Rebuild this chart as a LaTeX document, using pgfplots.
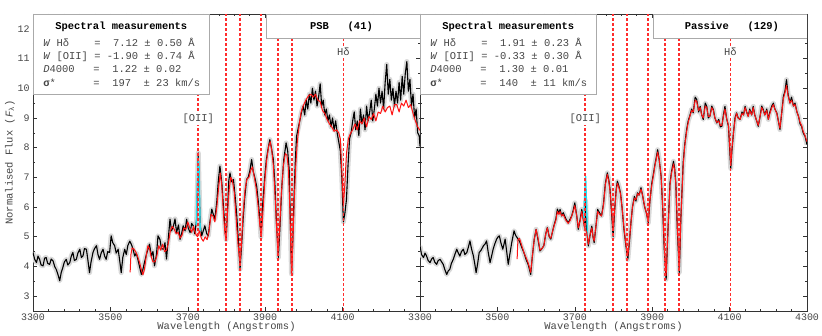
\documentclass[border=0pt]{standalone}
\usepackage{fontspec}
\setmainfont{Liberation Mono}
\usepackage{pgfplots}
\usepackage{pgfplotstable}
\pgfplotsset{compat=1.18}
\definecolor{txtgray}{RGB}{70,70,70}
\definecolor{boxgray}{RGB}{170,170,170}
\definecolor{oiicyan}{RGB}{40,220,235}
\definecolor{linered}{RGB}{255,20,20}
\definecolor{dotred}{RGB}{255,45,45}

% PSB stacked spectrum
\pgfplotstableread{
w f
3300 4.47
3304 4.25
3309 4.13
3313 4.35
3317 4.24
3321 4.05
3326 4.02
3330 4.28
3334 4.30
3338 4.10
3343 4.07
3347 4.25
3352 4.18
3356 4.00
3360 3.90
3364 3.75
3369 3.52
3373 3.80
3377 3.96
3381 4.15
3386 4.24
3390 4.05
3395 4.13
3399 4.35
3403 4.47
3407 4.20
3412 4.24
3416 4.45
3421 4.58
3425 4.30
3429 4.35
3433 4.60
3438 4.58
3442 4.20
3446 3.79
3450 4.15
3455 4.47
3459 4.60
3464 4.70
3468 4.40
3472 4.24
3476 4.45
3481 4.58
3485 4.35
3489 4.24
3493 4.50
3498 4.47
3502 5.03
3506 4.80
3511 4.70
3515 4.45
3520 4.58
3524 4.20
3528 3.79
3532 4.30
3537 4.58
3541 4.40
3545 4.70
3550 4.85
3554 4.75
3558 4.60
3563 4.35
3567 4.45
3571 4.24
3576 3.95
3580 3.73
3584 3.90
3588 4.13
3593 4.40
3597 4.58
3601 4.75
3606 4.35
3610 4.50
3614 4.02
3619 4.40
3623 5.03
3628 4.91
3632 4.60
3637 4.58
3641 4.80
3645 4.25
3650 5.00
3654 5.59
3658 5.20
3663 5.37
3667 5.60
3671 5.14
3676 5.40
3680 4.91
3684 5.10
3688 5.37
3693 5.20
3697 5.59
3701 5.30
3706 5.14
3710 5.45
3714 5.37
3718 5.10
3723 5.59
3727 7.82
3732 5.40
3736 5.03
3740 5.20
3744 5.37
3749 5.10
3753 5.03
3757 5.50
3762 5.93
3766 5.75
3770 5.59
3775 6.20
3779 6.90
3783 7.38
3788 6.80
3792 6.04
3796 5.30
3799 4.91
3803 6.00
3806 6.90
3809 7.15
3813 6.85
3818 6.93
3822 6.40
3826 5.81
3830 5.00
3835 3.91
3839 4.70
3843 5.59
3847 6.30
3852 6.93
3856 7.00
3860 7.20
3865 7.60
3869 7.20
3873 7.00
3878 6.70
3882 6.20
3886 5.60
3889 5.00
3893 6.00
3899 7.04
3903 7.60
3908 8.00
3912 8.27
3916 8.00
3921 7.60
3925 6.80
3929 5.50
3934 4.30
3938 5.30
3943 6.70
3948 7.60
3954 8.16
3958 7.90
3962 7.26
3965 5.50
3968 3.75
3971 4.80
3975 6.50
3978 7.60
3981 8.38
3986 8.70
3990 8.94
3994 9.20
3998 9.40
4002 9.10
4006 9.60
4010 9.30
4014 9.80
4018 9.50
4022 10.00
4026 9.60
4030 9.90
4034 9.40
4038 9.70
4042 10.15
4046 9.40
4050 9.60
4054 9.10
4058 9.30
4062 8.90
4066 9.10
4070 8.70
4074 9.00
4078 8.60
4082 8.90
4086 8.50
4090 8.20
4094 7.90
4098 7.00
4102 5.50
4106 5.80
4110 6.26
4114 7.40
4118 8.30
4122 8.50
4126 8.90
4130 9.20
4134 8.60
4138 8.90
4142 8.40
4146 9.30
4150 8.80
4154 9.10
4158 8.60
4162 9.40
4166 8.90
4170 9.20
4174 9.60
4178 8.90
4182 9.30
4186 9.80
4190 9.40
4194 10.00
4198 9.50
4202 9.90
4206 9.30
4210 10.20
4214 10.80
4218 9.80
4222 10.30
4226 9.60
4230 10.00
4234 9.40
4238 9.90
4242 9.50
4246 10.20
4250 9.60
4254 10.40
4258 9.80
4262 10.50
4266 10.90
4270 9.90
4274 10.30
4278 9.40
4282 9.80
4286 9.00
4290 9.30
4294 8.50
4298 8.40
4300 8.04
}\psbspec

% PSB model fit
\pgfplotstableread{
w f
3551 3.80
3553 4.40
3556 4.62
3560 4.60
3565 4.50
3570 4.35
3575 4.15
3580 3.90
3584 3.72
3588 3.90
3593 4.40
3597 4.70
3601 4.60
3605 4.35
3610 4.15
3615 4.15
3620 4.35
3625 4.70
3630 4.55
3635 4.75
3640 4.50
3645 4.55
3650 4.80
3655 5.20
3660 5.35
3665 5.25
3670 5.10
3675 5.15
3680 4.95
3685 5.05
3690 5.30
3695 5.25
3700 5.50
3705 5.30
3710 5.15
3715 5.35
3720 5.10
3725 5.00
3730 5.20
3735 4.95
3740 4.85
3745 5.00
3750 4.90
3755 5.20
3760 5.75
3765 5.70
3770 5.50
3775 6.00
3780 6.70
3784 7.15
3788 6.70
3792 5.80
3796 5.10
3799 4.90
3803 5.90
3807 6.60
3811 7.00
3815 6.90
3820 6.50
3825 5.60
3830 4.70
3835 4.10
3839 4.80
3843 5.80
3848 6.60
3853 6.95
3858 7.00
3863 7.25
3867 7.35
3872 7.00
3877 6.60
3882 6.00
3886 5.40
3890 5.00
3894 5.80
3899 6.90
3904 7.60
3909 8.05
3913 8.20
3917 7.90
3921 7.40
3925 6.50
3929 5.40
3933 4.40
3937 5.20
3942 6.50
3947 7.40
3952 7.80
3956 7.75
3960 7.30
3964 5.80
3968 3.75
3971 4.60
3975 6.20
3979 7.40
3983 8.20
3988 8.80
3993 9.20
3998 9.40
4005 9.60
4012 9.75
4018 9.80
4024 9.70
4030 9.80
4036 9.60
4042 9.55
4048 9.25
4054 9.15
4060 8.95
4066 8.80
4072 8.70
4078 8.55
4084 8.60
4090 8.50
4094 8.30
4098 7.20
4102 6.03
4106 6.80
4110 7.80
4115 8.30
4120 8.47
4126 8.60
4132 8.80
4138 8.60
4144 8.90
4150 8.80
4156 9.00
4162 8.70
4168 9.05
4174 8.95
4180 9.15
4186 8.90
4192 9.20
4198 9.15
4204 9.40
4210 9.20
4216 9.35
4222 9.40
4228 9.10
4234 9.45
4240 9.45
4246 9.20
4252 9.50
4258 9.40
4264 9.60
4270 9.35
4276 9.45
4282 9.15
4288 8.90
4294 8.70
4300 8.58
}\psbfit

% Passive stacked spectrum
\pgfplotstableread{
w f
3300 4.69
3304 4.40
3309 4.30
3313 4.45
3317 4.35
3321 4.20
3326 4.13
3330 4.25
3334 4.30
3338 4.15
3343 4.07
3347 4.20
3352 4.24
3356 4.15
3360 4.07
3364 3.90
3369 3.73
3373 3.85
3377 3.90
3381 4.10
3386 4.24
3390 4.40
3395 4.58
3399 4.45
3403 4.35
3407 4.50
3412 4.58
3416 4.40
3421 4.47
3425 4.65
3429 4.86
3433 4.60
3438 4.35
3442 4.05
3445 3.79
3449 4.10
3453 4.47
3458 4.55
3464 4.70
3468 4.75
3472 4.86
3476 4.50
3481 4.13
3485 4.35
3489 4.58
3493 4.75
3498 4.92
3502 5.00
3505 5.03
3509 4.80
3514 4.58
3517 4.75
3520 4.92
3524 4.50
3528 4.07
3532 4.40
3537 4.80
3540 5.00
3543 5.20
3547 5.05
3551 4.97
3557 4.85
3563 4.64
3569 4.45
3574 4.24
3580 4.05
3586 3.73
3590 4.30
3595 4.90
3600 5.25
3605 4.90
3610 4.52
3615 4.60
3620 4.70
3625 5.10
3629 5.31
3634 5.00
3638 4.92
3642 5.15
3646 5.37
3651 5.60
3655 5.93
3659 5.80
3662 5.92
3666 5.70
3670 5.81
3677 5.60
3683 5.47
3688 5.60
3692 5.70
3696 5.90
3700 6.14
3705 5.70
3709 5.25
3714 5.60
3718 5.92
3722 5.60
3726 5.25
3728 6.20
3731 5.20
3735 4.69
3740 5.10
3744 5.36
3747 5.00
3750 4.80
3755 5.40
3759 5.92
3764 5.80
3769 5.70
3774 6.10
3779 6.80
3784 7.15
3788 6.90
3791 6.59
3795 5.80
3799 5.00
3803 5.90
3807 6.60
3810 6.87
3814 6.70
3818 6.48
3822 6.00
3827 5.25
3832 4.70
3837 4.24
3841 4.80
3845 5.47
3849 6.00
3854 6.36
3858 6.20
3862 6.48
3866 6.40
3871 6.65
3875 6.40
3880 6.03
3885 5.80
3890 5.47
3894 6.20
3899 6.81
3903 7.10
3907 7.43
3911 7.70
3914 7.93
3918 7.60
3923 7.04
3927 6.00
3931 4.60
3936 3.57
3940 5.00
3946 6.81
3950 7.20
3955 7.54
3958 7.30
3961 6.81
3965 5.20
3970 3.80
3974 5.60
3980 7.49
3984 8.10
3989 8.61
3993 8.90
3997 9.06
4002 9.30
4006 9.17
4011 9.70
4015 9.62
4020 9.20
4024 9.39
4028 9.10
4032 8.95
4037 9.50
4041 9.39
4045 9.00
4049 9.06
4054 9.40
4058 9.28
4062 9.00
4067 8.83
4072 8.95
4076 8.70
4080 8.72
4084 9.10
4088 9.39
4092 9.00
4097 8.72
4100 8.00
4103 7.30
4106 7.90
4110 8.50
4114 9.00
4118 9.17
4122 9.00
4127 8.95
4132 9.20
4136 9.10
4140 9.39
4144 9.20
4148 9.06
4152 9.30
4157 9.10
4161 9.39
4165 9.10
4170 8.90
4174 8.72
4178 9.00
4183 9.40
4187 9.28
4191 9.10
4196 9.30
4200 8.95
4204 9.20
4209 9.40
4213 9.50
4217 9.30
4222 9.17
4226 8.90
4230 8.61
4234 9.10
4239 9.73
4243 9.90
4247 10.29
4251 9.80
4256 9.50
4260 9.70
4265 9.40
4269 9.50
4274 9.20
4278 9.06
4282 8.80
4286 8.72
4290 8.50
4295 8.38
4299 8.16
4300 8.10
}\passpec

% Passive model fit
\pgfplotstableread{
w f
3551 4.25
3553 4.90
3557 4.95
3563 4.70
3569 4.45
3574 4.30
3580 4.10
3586 3.80
3590 4.30
3595 4.90
3600 5.25
3605 4.95
3610 4.55
3615 4.60
3620 4.70
3625 5.10
3629 5.30
3634 5.00
3638 4.95
3642 5.15
3646 5.35
3651 5.55
3655 5.85
3659 5.75
3662 5.85
3666 5.70
3670 5.75
3677 5.55
3683 5.45
3688 5.55
3692 5.70
3696 5.85
3700 6.05
3705 5.70
3709 5.30
3714 5.55
3718 5.85
3722 5.55
3726 5.25
3731 5.15
3735 4.75
3740 5.10
3744 5.30
3747 5.00
3750 4.85
3755 5.40
3759 5.85
3764 5.75
3769 5.70
3774 6.05
3779 6.75
3784 7.10
3788 6.85
3791 6.55
3795 5.85
3799 5.25
3803 5.90
3807 6.55
3810 6.80
3814 6.65
3818 6.45
3822 6.00
3827 5.30
3832 4.75
3837 4.35
3841 4.85
3845 5.45
3849 6.00
3854 6.30
3858 6.25
3862 6.45
3866 6.40
3871 6.60
3875 6.40
3880 6.05
3885 5.80
3890 5.50
3894 6.20
3899 6.75
3903 7.05
3907 7.40
3911 7.65
3914 7.85
3918 7.60
3923 7.05
3927 6.05
3931 4.70
3936 3.70
3940 5.00
3946 6.75
3950 7.15
3955 7.45
3958 7.25
3961 6.80
3965 5.30
3970 3.90
3974 5.60
3980 7.40
3984 8.05
3989 8.55
3993 8.85
3997 9.05
4002 9.25
4006 9.20
4011 9.60
4015 9.55
4020 9.25
4024 9.35
4028 9.10
4032 9.00
4037 9.40
4041 9.35
4045 9.05
4049 9.05
4054 9.35
4058 9.25
4062 9.00
4067 8.85
4072 8.90
4076 8.75
4080 8.75
4084 9.05
4088 9.30
4092 9.00
4097 8.75
4100 8.10
4103 7.40
4106 7.95
4110 8.50
4114 8.95
4118 9.15
4122 9.00
4127 8.95
4132 9.15
4136 9.10
4140 9.35
4144 9.20
4148 9.05
4152 9.25
4157 9.10
4161 9.35
4165 9.10
4170 8.90
4174 8.75
4178 9.00
4183 9.35
4187 9.25
4191 9.10
4196 9.25
4200 8.95
4204 9.15
4209 9.35
4213 9.45
4217 9.30
4222 9.15
4226 8.90
4230 8.65
4234 9.10
4239 9.65
4243 9.85
4247 10.10
4251 9.75
4256 9.50
4260 9.60
4265 9.40
4269 9.45
4274 9.20
4278 9.05
4282 8.85
4286 8.75
4290 8.55
4295 8.40
4300 8.20
}\pasfit

% marked absorption / emission lines
\pgfplotstableread{
w f
3727 2.5
3727 12.5
3798 nan
3798 2.5
3798 12.5
3835 nan
3835 2.5
3835 12.5
3889 nan
3889 2.5
3889 12.5
3933 nan
3933 2.5
3933 12.5
3968 nan
3968 2.5
3968 12.5
3970 nan
3970 2.5
3970 12.5
4102 nan
4102 2.5
4102 12.5
}\lines

\pgfplotsset{
  specaxis/.style={
    scale only axis, width=387bp, height=297bp, anchor=south west,
    xmin=3300, xmax=4300, ymin=2.5, ymax=12.5,
    xtick={3300,3500,...,4300}, minor x tick num=4,
    ytick={3,...,12}, minor y tick num=1,
    tick align=inside, major tick length=4bp, minor tick length=2bp,
    axis line style={black!80, line width=0.6bp},
    every tick/.style={black!80, line width=0.5bp},
    tick label style={font=\fontsize{10}{12}\selectfont, text=txtgray},
    /pgf/number format/assume math mode=true,
    /pgf/number format/1000 sep={},
    xlabel={Wavelength (Angstroms)},
    label style={font=\fontsize{10.5}{12}\selectfont, text=txtgray},
    xlabel style={yshift=5bp},
    xticklabel style={yshift=1bp},
    unbounded coords=jump,
  },
  vline/.style={draw=dotred, line width=1.7bp, dash pattern=on 3bp off 2bp, forget plot},
  band/.style={black!15, line width=5bp, line join=round},
  spec/.style={black, line width=1.1bp, line join=round},
  fit/.style={linered, line width=1bp, line join=round},
}
\tikzset{
  boxtxt/.style={font=\fontsize{10.5}{12}\selectfont, text=txtgray, anchor=west, inner sep=0pt},
}

\begin{document}
\begin{tikzpicture}
\useasboundingbox (0,0) rectangle (822bp,336bp);

% ---- left panel: PSB
\begin{axis}[specaxis, at={(33bp,25bp)},
  xticklabels={3300,3500,3700,3900,4100,},
  ylabel={Normalised Flux (\textit{F}\textsubscript{λ})},
  ylabel style={yshift=-4bp}]
\addplot[band] table[x=w,y=f] {\psbspec};
\addplot[spec] table[x=w,y=f] {\psbspec};
\addplot[oiicyan, line width=1.4bp] coordinates {(3722,5.40) (3725,7.00) (3727,7.55) (3729,7.40) (3732,5.20)};
\addplot[fit] table[x=w,y=f] {\psbfit};
\addplot[vline] table[x=w,y=f] {\lines};
\filldraw[fill=white, draw=boxgray, line width=0.6bp] (rel axis cs:0,1) rectangle (rel axis cs:0.455,0.731);
\filldraw[fill=white, draw=boxgray, line width=0.6bp] (rel axis cs:0.602,1) rectangle (rel axis cs:1,0.919);
\node[boxtxt, anchor=center, text=black] at (axis cs:3528,12.07) {\textbf{Spectral measurements}};
\node[boxtxt] at (axis cs:3326,11.53) {\textit{W}~Hδ~~~~=~~7.12~±~0.50~Å};
\node[boxtxt] at (axis cs:3326,11.08) {\textit{W}~[OII]~=~-1.90~±~0.74~Å};
\node[boxtxt] at (axis cs:3326,10.63) {\textit{D}4000~~~=~~1.22~±~0.02};
\node[boxtxt] at (axis cs:3326,10.19) {\textbf{σ}*~~~~~~=~~197~~±~23~km/s};
\node[boxtxt, anchor=center, text=black] at (axis cs:4097,12.08) {\textbf{PSB~~~(41)}};
\node[boxtxt, anchor=center, fill=white, inner sep=1bp] at (axis cs:4102,11.23) {Hδ};
\node[boxtxt, anchor=center, fill=white, inner sep=1bp] at (axis cs:3727,8.97) {[OII]};
\end{axis}

% ---- right panel: Passive
\begin{axis}[specaxis, at={(420bp,25bp)}, yticklabels={}]
\addplot[band] table[x=w,y=f] {\passpec};
\addplot[spec] table[x=w,y=f] {\passpec};
\addplot[oiicyan, line width=1.4bp] coordinates {(3723,5.50) (3726,6.60) (3728,7.04) (3730,6.20) (3733,5.00)};
\addplot[fit] table[x=w,y=f] {\pasfit};
\addplot[vline] table[x=w,y=f] {\lines};
\filldraw[fill=white, draw=boxgray, line width=0.6bp] (rel axis cs:0,1) rectangle (rel axis cs:0.455,0.731);
\filldraw[fill=white, draw=boxgray, line width=0.6bp] (rel axis cs:0.602,1) rectangle (rel axis cs:1,0.919);
\node[boxtxt, anchor=center, text=black] at (axis cs:3528,12.07) {\textbf{Spectral measurements}};
\node[boxtxt] at (axis cs:3326,11.53) {\textit{W}~Hδ~~~~=~~1.91~±~0.23~Å};
\node[boxtxt] at (axis cs:3326,11.08) {\textit{W}~[OII]~=~-0.33~±~0.30~Å};
\node[boxtxt] at (axis cs:3326,10.63) {\textit{D}4000~~~=~~1.30~±~0.01};
\node[boxtxt] at (axis cs:3326,10.19) {\textbf{σ}*~~~~~~=~~140~~±~11~km/s};
\node[boxtxt, anchor=center, text=black] at (axis cs:4106,12.08) {\textbf{Passive~~~(129)}};
\node[boxtxt, anchor=center, fill=white, inner sep=1bp] at (axis cs:4102,11.23) {Hδ};
\node[boxtxt, anchor=center, fill=white, inner sep=1bp] at (axis cs:3727,8.97) {[OII]};
\end{axis}
\end{tikzpicture}
\end{document}
